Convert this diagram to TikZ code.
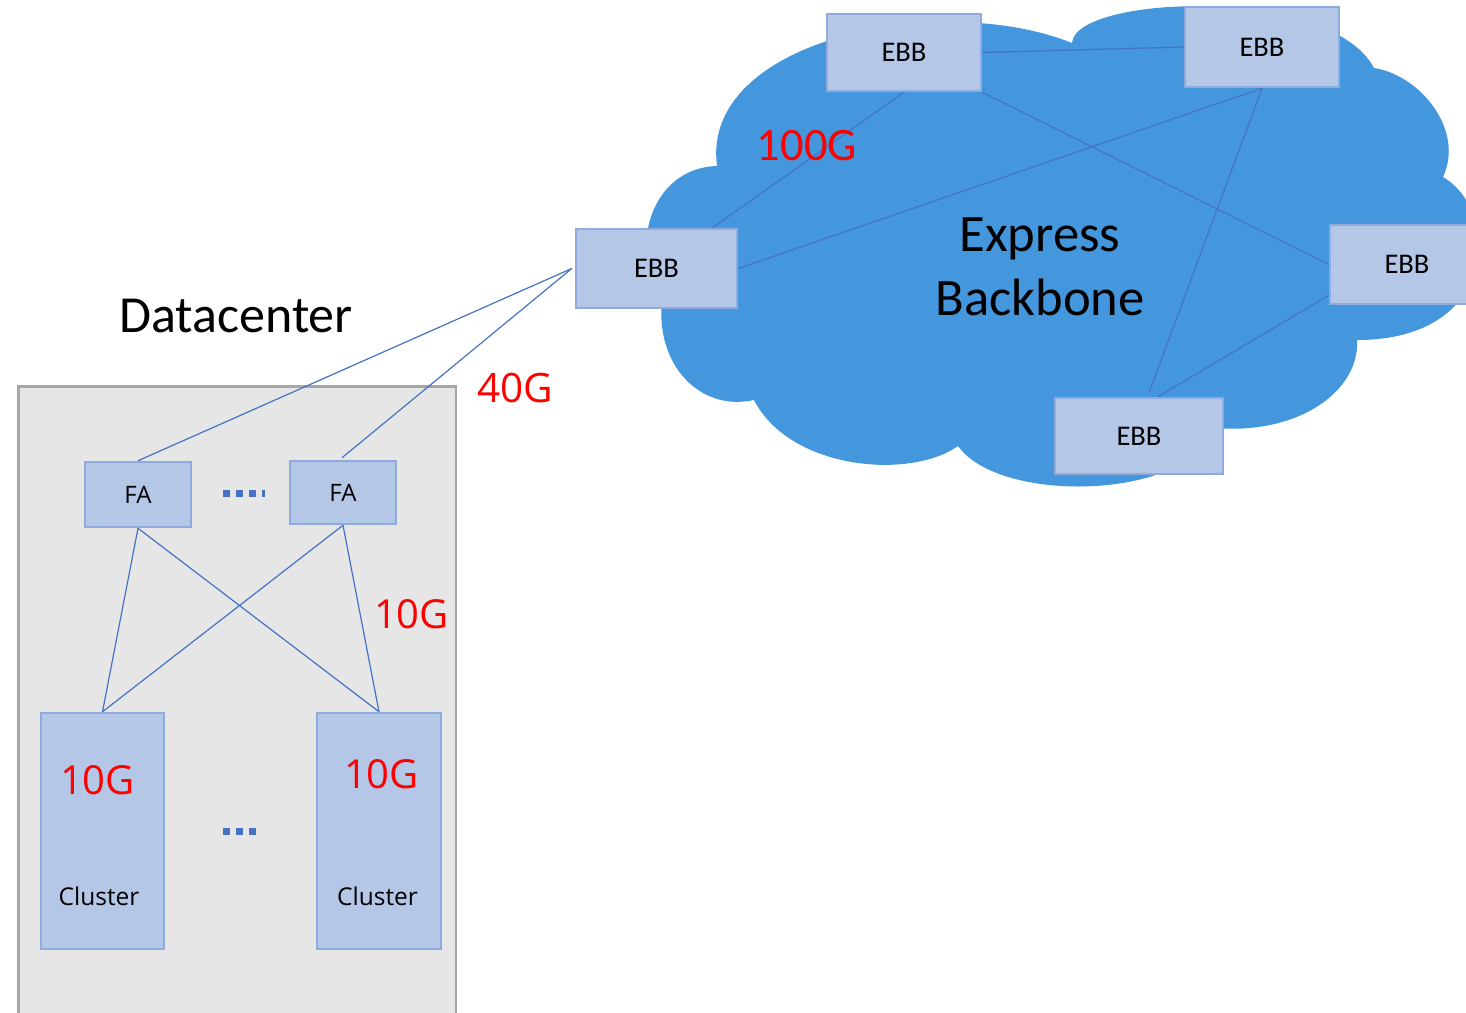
\documentclass[tikz,border=0pt]{standalone}
\usepackage{fontspec}
\setmainfont{Carlito}
\newfontfamily\uisans{Open Sans}
\definecolor{cloudblue}{HTML}{4497DD}
\definecolor{boxfill}{HTML}{B4C7E7}
\definecolor{boxline}{HTML}{8FAADC}
\definecolor{linkblue}{HTML}{4472C4}
\definecolor{dcfill}{HTML}{E6E6E6}
\definecolor{dcline}{HTML}{A6A6A6}
\definecolor{ratered}{HTML}{FF0000}
\pgfdeclarelayer{back}
\pgfdeclarelayer{links}
\pgfsetlayers{back,links,main}
\tikzset{
  unitbox/.style={draw=boxline, fill=boxfill, line width=2.5pt, inner sep=0pt},
  ebbbox/.style={unitbox, font=\fontsize{28.5}{34}\selectfont},
  fabox/.style={unitbox, font=\uisans\fontsize{24}{29}\selectfont},
  link/.style={draw=linkblue, line width=1.2pt},
  ratelbl/.style={text=ratered, anchor=base, inner sep=0pt},
  plainlbl/.style={anchor=base, inner sep=0pt},
  dotrow/.style={draw=linkblue, line width=7pt, dash pattern=on 7pt off 6pt}
}
\begin{document}
\begin{tikzpicture}[x=1pt,y=-1pt]
\useasboundingbox (0,0) rectangle (1466,1012);

% backbone cloud and datacenter frame
\begin{pgfonlayer}{back}
\fill[cloudblue] (662,300) .. controls (628,250) and (650,168) .. (717,166)
  .. controls (700,40) and (940,-10) .. (1072,43)
  .. controls (1075,-5) and (1330,-15) .. (1374,68)
  .. controls (1420,75) and (1465,130) .. (1443,177)
  .. controls (1500,210) and (1500,340) .. (1357,340)
  .. controls (1360,390) and (1300,435) .. (1215,428)
  .. controls (1190,500) and (1000,505) .. (958,446)
  .. controls (910,480) and (790,470) .. (754,400)
  .. controls (700,412) and (655,365) .. cycle;
\draw[fill=dcfill, draw=dcline, line width=2.5pt] (18.25,386.25) rectangle (456,1030);
\end{pgfonlayer}

% backbone routers
\node[ebbbox, minimum width=154pt, minimum height=77pt] (ebbT)  at (904,52.5)   {EBB};
\node[ebbbox, minimum width=154pt, minimum height=80pt] (ebbTR) at (1262,47)    {EBB};
\node[ebbbox, minimum width=161pt, minimum height=79pt] (ebbL)  at (656.5,268.5){EBB};
\node[ebbbox, minimum width=154pt, minimum height=79pt] (ebbR)  at (1407,264.5) {EBB};
\node[ebbbox, minimum width=168pt, minimum height=76pt] (ebbB)  at (1139,436)   {EBB};

% datacenter devices
\node[fabox, minimum width=106pt, minimum height=65pt] (faL) at (138,494.5) {FA};
\node[fabox, minimum width=106pt, minimum height=63pt] (faR) at (343,492.5) {FA};
\node[unitbox, minimum width=123pt, minimum height=236pt] (clL) at (102.5,831) {};
\node[unitbox, minimum width=124pt, minimum height=236pt] (clR) at (379,831) {};

% texts
\node[plainlbl, font=\fontsize{52.6}{63}\selectfont] (bbA) at (1040,251) {Express};
\node[plainlbl, font=\fontsize{52.6}{63}\selectfont] (bbB) at (1040,315) {Backbone};
\node[plainlbl, font=\fontsize{52}{62}\selectfont] (dc) at (236,332) {Datacenter};
\node[ratelbl, font=\fontsize{46.5}{56}\selectfont] (r100) at (807,160) {100G};
\node[ratelbl, font=\uisans\fontsize{40.5}{48}\selectfont] (r40) at (515,402) {40G};
\node[ratelbl, font=\uisans\fontsize{40}{48}\selectfont] (r10) at (411.5,628) {10G};
\node[ratelbl, font=\uisans\fontsize{40}{48}\selectfont] (r10L) at (97.5,794) {10G};
\node[ratelbl, font=\uisans\fontsize{40}{48}\selectfont] (r10R) at (381.5,788) {10G};
\node[plainlbl, font=\uisans\fontsize{24.5}{29}\selectfont] (cnL) at (99,905) {Cluster};
\node[plainlbl, font=\uisans\fontsize{24.5}{29}\selectfont] (cnR) at (377.5,905) {Cluster};

% ellipses between repeated devices
\coordinate (faDotsA) at (223,493.5);
\coordinate (faDotsB) at (265,493.5);
\coordinate (clDotsA) at (223,831.5);
\coordinate (clDotsB) at (256.5,831.5);
\draw[dotrow] (faDotsA) -- (faDotsB);
\draw[dotrow] (clDotsA) -- (clDotsB);

% links
\begin{pgfonlayer}{links}
\draw[link] (ebbT.south) -- ([xshift=56pt]ebbL.north);
\draw[link] (ebbT.east) -- (ebbTR.west);
\draw[link] (ebbT.south east) -- (ebbR.west);
\draw[link] (ebbTR.south) -- (ebbL.east);
\draw[link] (ebbTR.south) -- ([xshift=10pt,yshift=4pt]ebbB.north);
\draw[link] ([yshift=10pt]ebbR.south west) -- ([xshift=19pt]ebbB.north);
\draw[link] ([xshift=-3pt]ebbL.west) -- (faL.north);
\draw[link] ([xshift=-3pt]ebbL.west) -- ([xshift=-1pt,yshift=2pt]faR.north);
\draw[link] (faL.south) -- (clL.north);
\draw[link] (faL.south) -- (clR.north);
\draw[link] (faR.south) -- (clL.north);
\draw[link] (faR.south) -- (clR.north);
\end{pgfonlayer}
\end{tikzpicture}
\end{document}
